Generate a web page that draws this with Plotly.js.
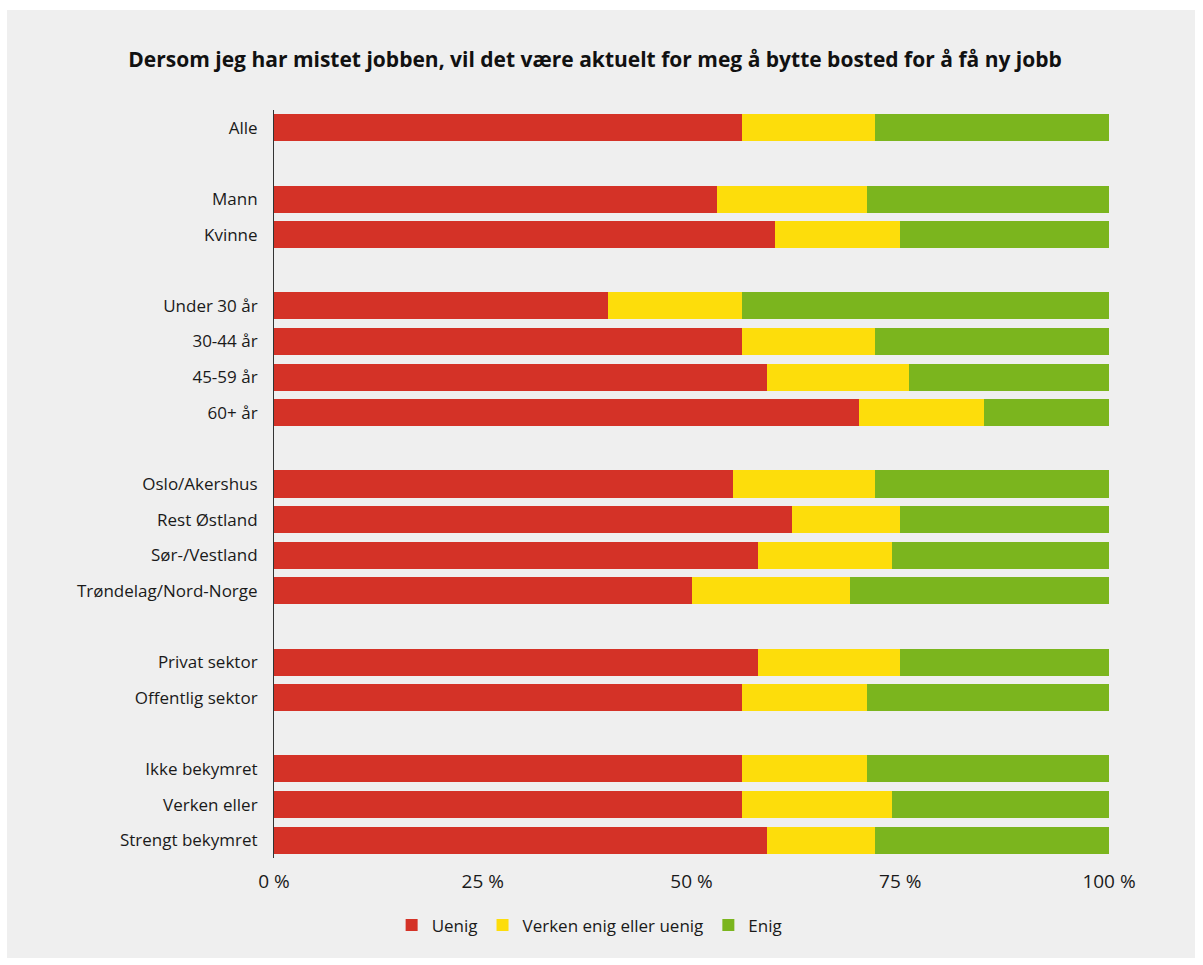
<!DOCTYPE html>
<html><head><meta charset="utf-8">
<script src="https://cdn.plot.ly/plotly-3.0.1.min.js"></script>
<style>
html,body{margin:0;padding:0;background:#ffffff;}
#chart{position:absolute;left:7px;top:10px;width:1188px;height:948px;}
</style></head>
<body><div id="chart"></div>
<script>
// Category order (blank entries are group separators)
const categories = ["Alle", " ", "Mann", "Kvinne", "  ", "Under 30 år", "30-44 år", "45-59 år", "60+ år", "   ",
  "Oslo/Akershus", "Rest Østland", "Sør-/Vestland", "Trøndelag/Nord-Norge", "    ",
  "Privat sektor", "Offentlig sektor", "     ", "Ikke bekymret", "Verken eller", "Strengt bekymret"];
const groups = ["Alle", "Mann", "Kvinne", "Under 30 år", "30-44 år", "45-59 år", "60+ år",
  "Oslo/Akershus", "Rest Østland", "Sør-/Vestland", "Trøndelag/Nord-Norge",
  "Privat sektor", "Offentlig sektor", "Ikke bekymret", "Verken eller", "Strengt bekymret"];
const uenig  = [56, 53, 60, 40, 56, 59, 70, 55, 62, 58, 50, 58, 56, 56, 56, 59];
const verken = [16, 18, 15, 16, 16, 17, 15, 17, 13, 16, 19, 17, 15, 15, 18, 13];
const enig   = [28, 29, 25, 44, 28, 24, 15, 28, 25, 26, 31, 25, 29, 29, 26, 28];
const seriesNames = ["Uenig", "Verken enig eller uenig", "Enig"];
const xTicks = [0, 25, 50, 75, 100];
const xTickLabels = ["0 %", "25 %", "50 %", "75 %", "100 %"];

const colors = ["#d43227", "#fddd0b", "#7bb51e"];
const vals = [uenig, verken, enig];
const traces = vals.map((v, i) => ({
  type: "bar", orientation: "h", x: v, y: groups, name: seriesNames[i],
  marker: {color: colors[i], line: {width: 0}}, hoverinfo: "x+y"
}));

const font = "'Open Sans', 'Noto Sans', sans-serif";
Plotly.newPlot("chart", traces, {
  barmode: "stack", bargap: 0.24,
  paper_bgcolor: "#efefef", plot_bgcolor: "#efefef",
  width: 1188, height: 948,
  margin: {l: 267, r: 86, t: 100, b: 100},
  font: {family: font, color: "#1a1a1a", size: 17},
  title: {text: "<b>Dersom jeg har mistet jobben, vil det være aktuelt for meg å bytte bosted for å få ny jobb</b>",
    font: {size: 21, family: font, color: "#111"}, x: 0.495, xanchor: "center", y: 0.948, yanchor: "middle"},
  xaxis: {range: [0, 100], tickmode: "array", tickvals: xTicks, ticktext: xTickLabels, showgrid: false, zeroline: false,
    showline: false, ticks: "", ticklabelstandoff: 10, tickfont: {size: 19}, fixedrange: true},
  yaxis: {type: "category", categoryorder: "array", categoryarray: categories, range: [20.5, -0.5],
    showgrid: false, zeroline: false, showline: true, linecolor: "#333", linewidth: 1,
    ticks: "", ticklabelstandoff: 12, tickfont: {size: 17}},
  legend: {orientation: "h", x: 0.378, xanchor: "center", y: -0.066, yanchor: "top",
    font: {size: 17}, traceorder: "normal"},
  showlegend: true
}, {displayModeBar: false, staticPlot: true});
</script></body></html>
